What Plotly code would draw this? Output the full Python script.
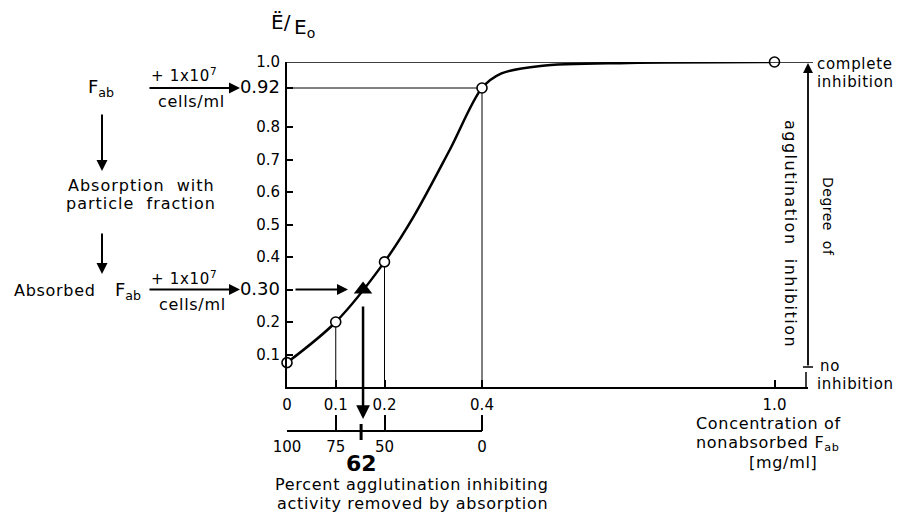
import plotly.graph_objects as go

# ---------------- data ----------------
conc_points = [0, 0.1, 0.2, 0.4, 1.0]            # mg/ml nonabsorbed Fab
ratio_points = [0.075, 0.2, 0.385, 0.92, 1.0]     # E/Eo

curve_x = [0, 0.1, 0.2, 0.26, 0.334, 0.4, 0.44, 0.52, 0.7, 1.0]
curve_y = [0.075, 0.2, 0.385, 0.525, 0.73, 0.92, 0.965, 0.988, 0.997, 1.0]

absorbed_x = [0.156]     # absorbed Fab (triangle)
absorbed_y = [0.30]

y_tickvals = [0.1, 0.2, 0.3, 0.4, 0.5, 0.6, 0.7, 0.8, 0.92, 1.0]
y_ticktext = ["0.1", "0.2", "0.30", "0.4", "0.5", "0.6", "0.7", "0.8", "0.92", "1.0"]
big_y_labels = ["0.30", "0.92"]

x_tickvals = [0, 0.1, 0.2, 0.4, 1.0]
x_ticktext = ["0", "0.1", "0.2", "0.4", "1.0"]

pct_tickvals = [100, 75, 50, 0]
pct_ticktext = ["100", "75", "50", "0"]
pct_removed = 62

OFF = 8                      # page body margin
W, H = 913 - OFF, 518 - OFF
FONT = "DejaVu Sans"
BLACK = "black"

def fx(px):
    return (px - OFF) / W

def fy(py):
    return 1 - (py - OFF) / H

def sp(t, ls=0.7):
    return '<span style="letter-spacing:%spx">' % ls + t + '</span>'

X0, X1 = 287, 808
Y0, Y1 = 387, 62
PX_PER_UNIT = 487.5
XMAX = (X1 - X0) / PX_PER_UNIT

fig = go.Figure()

# thin guide lines (from points down to axis, 0.92 across)
for cx, cy in zip(conc_points[1:4], ratio_points[1:4]):
    fig.add_trace(go.Scatter(x=[cx, cx], y=[cy, 0], mode="lines",
                             line=dict(color=BLACK, width=1), showlegend=False, hoverinfo="skip"))
fig.add_trace(go.Scatter(x=[0, conc_points[3]], y=[ratio_points[3], ratio_points[3]], mode="lines",
                         line=dict(color=BLACK, width=1), showlegend=False, hoverinfo="skip"))

# smooth curve
fig.add_trace(go.Scatter(x=curve_x, y=curve_y, mode="lines",
                         line=dict(color=BLACK, width=2.5, shape="spline", smoothing=0.9),
                         showlegend=False, hoverinfo="skip"))
# open circles
fig.add_trace(go.Scatter(x=conc_points, y=ratio_points, mode="markers",
                         marker=dict(symbol="circle", size=10, color="white",
                                     line=dict(color=BLACK, width=1.6)),
                         showlegend=False, cliponaxis=False))
# filled triangle
fig.add_trace(go.Scatter(x=absorbed_x, y=absorbed_y, mode="markers",
                         marker=dict(symbol="triangle-up", size=16, color=BLACK),
                         showlegend=False, cliponaxis=False))

# percent axis helper trace (invisible) on x2
fig.add_trace(go.Scatter(x=pct_tickvals, y=[0] * len(pct_tickvals), xaxis="x2", mode="markers",
                         marker=dict(opacity=0), showlegend=False, hoverinfo="skip"))

def ylab(t):
    if t in big_y_labels:
        return '<span style="font-size:18px">' + t + '</span>'
    return t

fig.update_layout(
    template="none",
    width=W, height=H, autosize=False,
    margin=dict(l=0, r=0, t=0, b=0, pad=0, autoexpand=False),
    paper_bgcolor="white", plot_bgcolor="rgba(0,0,0,0)",
    font=dict(family=FONT, color=BLACK, size=15),
    showlegend=False,
    xaxis=dict(domain=[fx(X0), fx(X1)], range=[0, XMAX], showgrid=False, zeroline=False,
               automargin=False,
               showline=True, linecolor=BLACK, linewidth=2,
               tickmode="array", tickvals=x_tickvals, ticktext=x_ticktext,
               ticks="inside", ticklen=7, tickwidth=1.5, tickcolor=BLACK,
               tickfont=dict(size=15), ticklabelstandoff=3),
    xaxis2=dict(overlaying="x", anchor="free", position=fy(431), side="bottom",
                automargin=False,
                range=[100, 100 - 250 * XMAX], showgrid=False, zeroline=False, showline=False,
                tickmode="array", tickvals=pct_tickvals, ticktext=pct_ticktext,
                ticks="inside", ticklen=16, tickwidth=1.5, tickcolor=BLACK,
                tickfont=dict(size=15), ticklabelstandoff=5),
    yaxis=dict(domain=[fy(Y0), fy(Y1)], range=[0, 1.0], showgrid=False, zeroline=False,
               automargin=False,
               showline=True, linecolor=BLACK, linewidth=2,
               tickmode="array", tickvals=y_tickvals, ticktext=[ylab(t) for t in y_ticktext],
               ticks="inside", ticklen=6, tickwidth=1.5, tickcolor=BLACK,
               tickfont=dict(size=15), ticklabelstandoff=2),
)

shapes = []
# top frame line
shapes.append(dict(type="line", xref="paper", yref="y", x0=fx(X0), x1=fx(813), y0=1, y1=1,
                   line=dict(color=BLACK, width=1.5)))
# percent axis line
shapes.append(dict(type="line", xref="x2", yref="paper", x0=100, x1=0, y0=fy(431), y1=fy(431),
                   line=dict(color=BLACK, width=2)))
# 62 mark on percent axis
shapes.append(dict(type="line", xref="x2", yref="paper", x0=pct_removed, x1=pct_removed,
                   y0=fy(424), y1=fy(440), line=dict(color=BLACK, width=3)))
# right end of x axis
shapes.append(dict(type="line", xref="paper", yref="paper", x0=fx(806), x1=fx(806),
                   y0=fy(387), y1=fy(372), line=dict(color=BLACK, width=1.5)))
# bottom bar of degree arrow
shapes.append(dict(type="line", xref="paper", yref="paper", x0=fx(803), x1=fx(813),
                   y0=fy(367), y1=fy(367), line=dict(color=BLACK, width=1.5)))
fig.update_layout(shapes=shapes)

ann = []
def text(px, py, t, size=16, xanchor="center", angle=0, ls=0.7):
    ann.append(dict(x=fx(px), y=fy(py), xref="paper", yref="paper",
                    text=sp(t, ls) if ls else t, showarrow=False,
                    xanchor=xanchor, yanchor="middle", textangle=angle,
                    font=dict(size=size, family=FONT, color=BLACK)))

def arrow(tx, ty, sx, sy, width=2, xref="paper", yref="paper", size=1.1):
    ann.append(dict(x=tx, y=ty, xref=xref, yref=yref, ax=sx, ay=sy, axref="pixel", ayref="pixel",
                    text="", showarrow=True, arrowhead=2, arrowsize=size, arrowwidth=width,
                    arrowcolor=BLACK))

# y title
text(281, 22, "Ë/", size=20, ls=0)
text(304, 28, "E<sub>o</sub>", size=20, ls=0)

# left scheme
text(101, 88, "F<sub>ab</sub>", size=18, ls=0)
arrow(fx(240), y_tickvals[8], -92, 0, yref="y")
text(184, 75, "+ 1x10<sup>7</sup>", size=15)
text(191, 101, "cells/ml", size=16)
arrow(fx(102), fy(171), 0, -58)
text(141, 185, "Absorption  with", size=16, ls=1.0)
text(141, 204, "particle  fraction", size=16, ls=1.0)
arrow(fx(102), fy(274), 0, -42)
text(55, 290, "Absorbed", size=16)
text(128, 291, "F<sub>ab</sub>", size=18, ls=0)
arrow(fx(240), absorbed_y[0], -92, 0, yref="y")
text(184, 278, "+ 1x10<sup>7</sup>", size=15)
text(192, 304, "cells/ml", size=16)

# arrows around absorbed point
arrow((348 - X0) / PX_PER_UNIT, absorbed_y[0], -54, 0, xref="x", yref="y")
arrow(absorbed_x[0], fy(419), 0, -114, xref="x", width=2.5)

# 62 label and percent title
ann.append(dict(x=pct_removed, y=fy(463), xref="x2", yref="paper", text="<b>62</b>", showarrow=False,
                xanchor="center", yanchor="middle", font=dict(size=22, family=FONT, color=BLACK)))
text(412, 484, "Percent agglutination inhibiting", size=16)
text(412, 503, "activity removed by absorption", size=16)

# concentration title
text(694, 423, "Concentration of", size=16, xanchor="left")
text(694, 443, "nonabsorbed F<sub>ab</sub>", size=16, xanchor="left")
text(783, 462, "[mg/ml]", size=16)

# right side degree scale
arrow(fx(808), fy(63), 0, 304, width=1.8)
text(815, 64, "complete", size=15, xanchor="left")
text(815, 82, "inhibition", size=15, xanchor="left")
text(818, 366, "no", size=15, xanchor="left")
text(815, 384, "inhibition", size=15, xanchor="left")
text(791, 234, "agglutination  inhibition", size=16, angle=90, ls=1.5)
text(828, 216, "Degree  of", size=14, angle=90, ls=0.5)

fig.update_layout(annotations=ann)

fig.write_html("out.html")
